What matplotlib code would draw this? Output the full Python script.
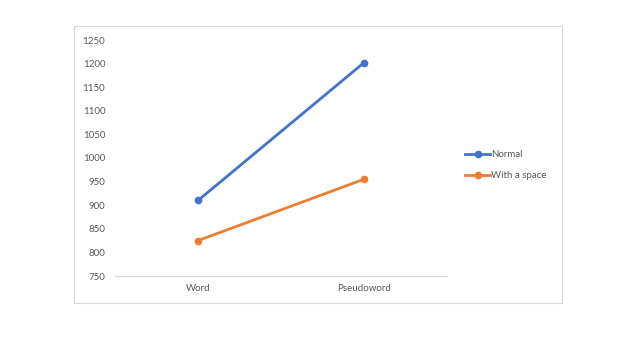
import matplotlib.pyplot as plt
from matplotlib.patches import Rectangle

categories = ["Word", "Pseudoword"]
normal = [910, 1202]
with_space = [825, 955]
yticks = [750, 800, 850, 900, 950, 1000, 1050, 1100, 1150, 1200, 1250]

plt.rcParams['font.family'] = ['Lato', 'DejaVu Sans']

fig = plt.figure(figsize=(6.42, 3.37), dpi=100)
W, H = 642, 337

# outer chart border (Excel chart area)
fig.patches.append(Rectangle((74 / W, 1 - 303 / H), (562 - 74) / W, (303 - 26) / H,
                             transform=fig.transFigure, fill=False,
                             edgecolor="#d9d9d9", linewidth=0.8))

ax = fig.add_axes([115 / W, 1 - 276 / H, (447 - 115) / W, (276 - 40) / H])
x = range(len(categories))
ax.plot(x, normal, color="#4472C4", lw=2.0, marker="o", ms=4.5, label="Normal")
ax.plot(x, with_space, color="#ED7D31", lw=2.0, marker="o", ms=4.5, label="With a space")

ax.set_xlim(-0.5, 1.5)
ax.set_ylim(750, 1250)
ax.set_yticks(yticks)
ax.set_xticks(list(x))
ax.set_xticklabels(categories)
ax.tick_params(axis="y", length=0, pad=7, labelsize=7, labelcolor="#595959")
ax.tick_params(axis="x", length=0, pad=6, labelsize=7, labelcolor="#595959")
for s in ["top", "right", "left"]:
    ax.spines[s].set_visible(False)
ax.spines["bottom"].set_color("#d9d9d9")
ax.spines["bottom"].set_linewidth(0.8)
ax.spines["bottom"].set_zorder(0)

fig.legend(loc="center left", bbox_to_anchor=(465 / W, 1 - 165 / H), frameon=False,
           fontsize=7, labelcolor="#595959", handlelength=2.6, handletextpad=0.1,
           borderpad=0, borderaxespad=0, labelspacing=1.25)

fig.savefig("out.png", dpi=100)
